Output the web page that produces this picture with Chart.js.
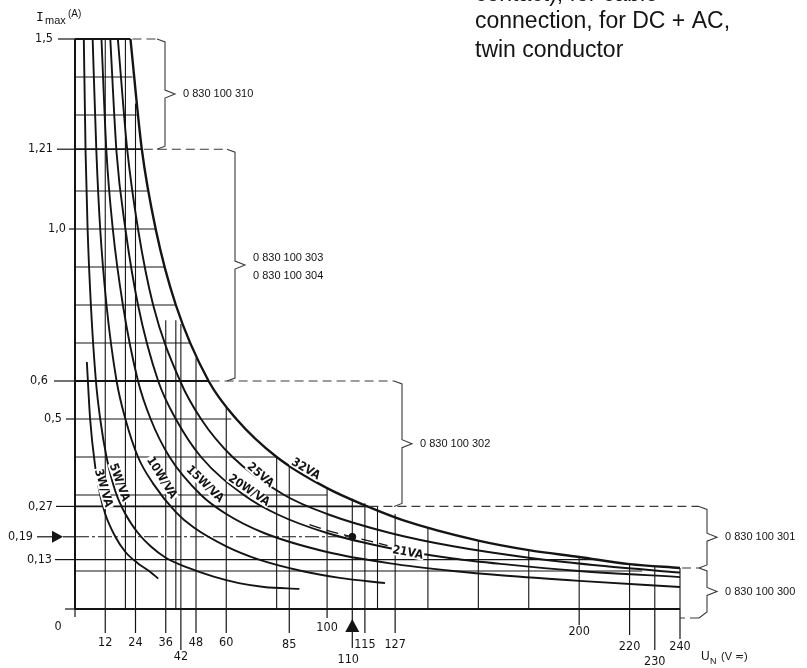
<!DOCTYPE html>
<html lang="en">
<head>
<meta charset="utf-8">
<title>Imax x UN</title>
<script src="https://cdn.jsdelivr.net/npm/chart.js@4.4.1/dist/chart.umd.min.js"></script>
<style>
  html, body { margin: 0; padding: 0; background: #fff; }
  #grafico { display: block; }
</style>
</head>
<body>
<canvas id="grafico" width="807" height="668"></canvas>
<script>
// --- EIXOS ---
const tensoesEixo = [12, 24, 36, 42, 48, 60, 85, 100, 110, 115, 127, 200, 220, 230, 240];
const correntesEixo = [1.5, 1.21, 1.0, 0.6, 0.5, 0.27, 0.19, 0.13];
const rotulosCorrente = ['1,5', '1,21', '1,0', '0,6', '0,5', '0,27', '0,19', '0,13'];

// --- CURVAS (tensão V / corrente A) ---
const u3W = [4.7, 6, 8, 10, 12, 16, 20, 25, 30, 33];
const i3W = [0.65, 0.5, 0.375, 0.3, 0.25, 0.19, 0.15, 0.12, 0.097, 0.08];
const u5W = [3.5, 4.2, 5, 6.3, 8.3, 10, 12.5, 16, 20, 25, 30, 36, 45, 55, 65, 75, 89];
const i5W = [1.5, 1.2, 1.0, 0.8, 0.6, 0.5, 0.4, 0.31, 0.25, 0.2, 0.165, 0.135, 0.108, 0.085, 0.068, 0.058, 0.053];
const u10W = [7, 8.5, 10, 12.5, 16.5, 20, 25, 31, 40, 47, 60, 73, 90, 105, 123];
const i10W = [1.5, 1.2, 1.0, 0.8, 0.6, 0.5, 0.4, 0.33, 0.255, 0.215, 0.165, 0.13, 0.1, 0.082, 0.068];
const u15W = [10.5, 12.5, 15, 19, 25, 30, 37.5, 50, 60, 75, 100, 125, 150, 170, 200, 240];
const i15W = [1.5, 1.2, 1.0, 0.8, 0.6, 0.5, 0.4, 0.3, 0.25, 0.2, 0.15, 0.12, 0.1, 0.088, 0.074, 0.058];
const u20W = [14, 16.5, 20, 25, 33, 40, 50, 67, 80, 100, 125, 150, 170, 200, 240];
const i20W = [1.5, 1.2, 1.0, 0.8, 0.6, 0.5, 0.4, 0.3, 0.25, 0.2, 0.16, 0.133, 0.118, 0.1, 0.084];
const u25VA = [17, 20.7, 25, 31, 41.7, 50, 62.5, 83, 100, 125, 150, 180, 210, 240];
const i25VA = [1.5, 1.21, 1.0, 0.8, 0.6, 0.5, 0.4, 0.3, 0.25, 0.2, 0.165, 0.135, 0.113, 0.096];
const u32VA = [22, 26.5, 32, 40, 53, 64, 80, 100, 116, 130, 160, 180, 200, 220, 240];
const i32VA = [1.5, 1.21, 1.0, 0.8, 0.6, 0.5, 0.4, 0.318, 0.27, 0.234, 0.18, 0.155, 0.137, 0.118, 0.108];
const u21VA = [93, 100, 110, 124];
const i21VA = [0.222, 0.207, 0.19, 0.167];

// --- GRADE ---
const nivelGradeH = [1.5, 1.4, 1.3, 1.21, 1.1, 1.0, 0.9, 0.8, 0.7, 0.6, 0.5, 0.4, 0.3, 0.27, 0.13, 0.1];
const fimGradeH = [22, 22.8, 24.5, 26.5, 29, 32, 35.5, 40, 45.6, 53, 62, 80, 100, 116, 205, 225];
const tensaoGradeV = [12, 20, 24, 36, 40, 42, 48, 60, 80, 85, 100, 110, 115, 120, 127, 140, 160, 180, 200, 220, 230, 240];
const topoGradeV = [1.5, 1.5, 1.33, 0.76, 0.76, 0.75, 0.66, 0.53, 0.4, 0.376, 0.318, 0.29, 0.278, 0.27, 0.25, 0.215, 0.18, 0.155, 0.137, 0.118, 0.113, 0.108];

// --- FAIXAS DE CÓDIGO (chaves à direita) ---
const faixaTopo = [1.5, 1.21, 0.6, 0.27, 0.108];
const faixaBase = [1.21, 0.6, 0.27, 0.108, 0];
const faixaInicioU = [22, 26.5, 53, 116, 240];
const faixaCodigos = [['0 830 100 310'], ['0 830 100 303', '0 830 100 304'], ['0 830 100 302'], ['0 830 100 301'], ['0 830 100 300']];

// ponto de exemplo (110 V / 0,19 A)
const pontoU = [110];
const pontoI = [0.19];

// --- ESTILO / LAYOUT ---
const TINTA = '#141414';
const FONTE_NUM = '12.5px "Liberation Sans Narrow", "DejaVu Sans Condensed", sans-serif';
const FONTE_COD = '11px "Liberation Sans", Arial, sans-serif';
const FONTE_CURVA = 'bold 12px "Liberation Sans Narrow", "DejaVu Sans Condensed", sans-serif';
const quedaTraco = [24, 24, 24, 41, 24, 24, 24, 9, 39, 24, 24, 16, 26, 41, 30];
const quedaRotulo = [34, 34, 34, 48, 34, 34, 36, 19, 51, 36, 36, 23, 38, 53, 38];
const textoDirY = [-22, -22, -9, -27, -13, -22, -42, -23];
const tracoIniY = [-17, -18, -6, -21, -9, -19, -38, -20];
const faixaX = [165, 235, 402, 707, 707];
const rotulosCurva = [
    { t: '3W/VA', u: 11.2, i: 0.318, a: 74 },
    { t: '5W/VA', u: 17.5, i: 0.333, a: 70 },
    { t: '10W/VA', u: 34.3, i: 0.345, a: 58 },
    { t: '15W/VA', u: 51.5, i: 0.328, a: 44 },
    { t: '20W/VA', u: 69, i: 0.312, a: 34 },
    { t: '25VA', u: 73.5, i: 0.352, a: 41 },
    { t: '32VA', u: 91.5, i: 0.368, a: 31 },
    { t: '21VA', u: 132, i: 0.148, a: 11 }
];

function juntar(us, is) {
    return us.map((u, k) => ({ x: u, y: is[k] }));
}

function serie(pontos, largura, extra) {
    return Object.assign({
        data: pontos,
        borderColor: TINTA,
        borderWidth: largura,
        pointRadius: 0,
        fill: false,
        clip: false,
        cubicInterpolationMode: 'monotone'
    }, extra || {});
}

const conjuntos = [];

// grade horizontal
nivelGradeH.forEach((nivel, k) => {
    const grossa = faixaTopo.includes(nivel);
    conjuntos.push(serie([{ x: 0, y: nivel }, { x: fimGradeH[k], y: nivel }], grossa ? 1.8 : 1.1));
});
// grade vertical
tensaoGradeV.forEach((u, k) => {
    conjuntos.push(serie([{ x: u, y: 0 }, { x: u, y: topoGradeV[k] }], 1.1));
});
// linha tracejada de 0,19 A
conjuntos.push(serie([{ x: 0, y: 0.19 }, { x: pontoU[0], y: 0.19 }], 1.1, { borderDash: [14, 3, 3, 3] }));
// eixos
conjuntos.push(serie([{ x: 0, y: 0 }, { x: 0, y: 1.5 }], 2));
conjuntos.push(serie([{ x: 0, y: 0 }, { x: 240, y: 0 }], 2));

// curvas
conjuntos.push(serie(juntar(u3W, i3W), 1.9));
conjuntos.push(serie(juntar(u5W, i5W), 1.9));
conjuntos.push(serie(juntar(u10W, i10W), 1.9));
conjuntos.push(serie(juntar(u15W, i15W), 1.9));
conjuntos.push(serie(juntar(u20W, i20W), 1.9));
conjuntos.push(serie(juntar(u25VA, i25VA), 1.9));
conjuntos.push(serie(juntar(u32VA, i32VA), 2.4));
conjuntos.push(serie(juntar(u21VA, i21VA), 1.3, { borderDash: [12, 6] }));
conjuntos.push({
    data: juntar(pontoU, pontoI), showLine: false, pointRadius: 3.5,
    pointBackgroundColor: TINTA, pointBorderColor: TINTA, clip: false
});

const pluginAnotacoes = {
    id: 'anotacoes',
    afterDatasetsDraw(chart) {
        const { ctx, scales: { x, y } } = chart;
        const px = v => x.getPixelForValue(v);
        const py = v => y.getPixelForValue(v);
        const linha = (x1, y1, x2, y2) => {
            ctx.beginPath(); ctx.moveTo(x1, y1); ctx.lineTo(x2, y2); ctx.stroke();
        };
        const x0 = px(0), y0 = py(0);
        ctx.save();
        ctx.strokeStyle = TINTA;
        ctx.fillStyle = TINTA;
        ctx.lineWidth = 1.2;

        // prolongamento dos eixos
        linha(x0, y0, x0, y0 + 8);
        linha(x0 - 10, y0, x0, y0);

        // marcas e rótulos do eixo X
        ctx.font = FONTE_NUM;
        ctx.textAlign = 'center';
        ctx.textBaseline = 'middle';
        tensoesEixo.forEach((u, k) => {
            const xx = px(u);
            linha(xx, y0, xx, y0 + quedaTraco[k]);
            ctx.fillText(String(u), u === 110 ? xx - 4 : xx, y0 + quedaRotulo[k]);
        });
        ctx.fillText('0', x0 - 17, y0 + 18);

        // seta de 110 V
        const x110 = px(110);
        ctx.beginPath();
        ctx.moveTo(x110, y0 + 10); ctx.lineTo(x110 - 7, y0 + 23); ctx.lineTo(x110 + 7, y0 + 23);
        ctx.closePath(); ctx.fill();

        // marcas e rótulos do eixo Y
        ctx.textAlign = 'right';
        correntesEixo.forEach((v, k) => {
            const yy = py(v);
            ctx.fillText(rotulosCorrente[k], x0 + textoDirY[k], yy);
            if (v === 0.19) {
                linha(x0 + tracoIniY[k], yy, x0 - 22, yy);
                ctx.beginPath();
                ctx.moveTo(x0 - 23, yy - 6); ctx.lineTo(x0 - 12, yy); ctx.lineTo(x0 - 23, yy + 6);
                ctx.closePath(); ctx.fill();
                linha(x0 - 12, yy, x0, yy);
            } else {
                linha(x0 + tracoIniY[k], yy, x0, yy);
            }
        });

        // chaves com os códigos
        faixaTopo.forEach((topo, k) => {
            const bx = faixaX[k];
            const yt = py(topo), yb = py(faixaBase[k]) + (k === 4 ? 6 : 0);
            const ym = (yt + yb) / 2;
            ctx.strokeStyle = '#3a3a3a';
            ctx.lineWidth = 1.1;
            ctx.setLineDash([9, 5]);
            linha(px(faixaInicioU[k]) + 2, yt, bx - 8, yt);
            if (k === 4) linha(bx - 8, yb + 3, px(240), yb + 3);
            ctx.setLineDash([]);
            ctx.beginPath();
            ctx.moveTo(bx - 8, yt); ctx.lineTo(bx, yt + 3);
            ctx.lineTo(bx, ym - 4); ctx.lineTo(bx + 10, ym); ctx.lineTo(bx, ym + 4);
            ctx.lineTo(bx, yb - 3); ctx.lineTo(bx - 8, yb + (k === 4 ? 3 : 0));
            ctx.stroke();
            ctx.fillStyle = TINTA;
            ctx.font = FONTE_COD;
            ctx.textAlign = 'left';
            const cods = faixaCodigos[k];
            if (cods.length === 1) {
                ctx.fillText(cods[0], bx + 18, ym);
            } else {
                ctx.fillText(cods[0], bx + 18, ym - 7);
                ctx.fillText(cods[1], bx + 18, ym + 11);
            }
        });

        // nomes das curvas
        ctx.font = FONTE_CURVA;
        ctx.textAlign = 'center';
        ctx.textBaseline = 'middle';
        rotulosCurva.forEach(r => {
            ctx.save();
            ctx.translate(px(r.u), py(r.i));
            ctx.rotate(r.a * Math.PI / 180);
            ctx.fillStyle = '#fff';
            const w = ctx.measureText(r.t).width;
            ctx.fillRect(-w / 2 - 1, -5, w + 2, 10);
            ctx.fillStyle = TINTA;
            ctx.fillText(r.t, 0, 0);
            ctx.restore();
        });

        // títulos dos eixos
        ctx.textAlign = 'left';
        ctx.textBaseline = 'alphabetic';
        ctx.font = '13px "DejaVu Sans Mono", monospace';
        ctx.fillText('I', 36, 21);
        ctx.font = '11px "Liberation Sans Narrow", sans-serif';
        ctx.fillText('max', 45, 24);
        ctx.font = '10px "Liberation Sans", sans-serif';
        ctx.fillText('(A)', 68, 17);

        ctx.font = '12px "Liberation Sans", sans-serif';
        ctx.fillText('U', 701, 660);
        ctx.font = '9px "Liberation Sans", sans-serif';
        ctx.fillText('N', 710, 664);
        ctx.font = '11px "Liberation Sans", sans-serif';
        ctx.fillText('(V \u2242)', 721, 660);

        // texto do cabeçalho
        ctx.font = '23px "Liberation Sans", Arial, sans-serif';
        ctx.fillText('contact), for cable', 475, 1);
        ctx.fillText('connection, for DC + AC,', 475, 28);
        ctx.fillText('twin conductor', 475, 57);
        ctx.restore();
    }
};

new Chart(document.getElementById('grafico'), {
    type: 'line',
    data: { datasets: conjuntos },
    options: {
        responsive: false,
        animation: false,
        devicePixelRatio: 1,
        layout: { padding: { left: 75, right: 127, top: 39, bottom: 59 } },
        scales: {
            x: { type: 'linear', min: 0, max: 240, display: false },
            y: { type: 'linear', min: 0, max: 1.5, display: false }
        },
        plugins: { legend: { display: false }, tooltip: { enabled: false } },
        events: []
    },
    plugins: [pluginAnotacoes]
});
</script>
</body>
</html>
